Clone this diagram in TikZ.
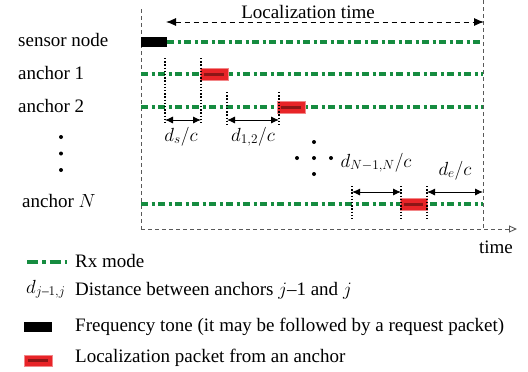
\RequirePackage{fix-cm}
\documentclass[tikz,border=0pt]{standalone}
\usepackage{amsmath}
\usepackage{fontspec}
\setmainfont{Liberation Serif}
\usepackage{tikz}
\usetikzlibrary{arrows.meta,positioning}
\definecolor{rxgreen}{RGB}{22,140,64}
\definecolor{pktred}{RGB}{232,36,40}
\definecolor{pktdark}{RGB}{140,22,22}

\begin{document}
\begin{tikzpicture}[x=1pt,y=-1pt,
  lbl/.style={inner sep=0pt, font=\fontsize{19}{22}\selectfont},
  rx/.style={rxgreen, line width=3.6pt, dash pattern=on 7pt off 3.5pt on 3pt off 3.5pt},
  frame/.style={black!65, line width=0.9pt, dash pattern=on 4pt off 3pt},
  guide/.style={black, line width=1.4pt, dash pattern=on 1.4pt off 1.8pt},
  span/.style={{Latex[length=8pt,width=7pt]}-{Latex[length=8pt,width=7pt]}, line width=0.9pt},
  tone/.style={fill=black},
  pkt/.style={fill=pktred, draw=pktred!55!white, line width=0.8pt},
  pktcore/.style={pktdark, line width=3pt}]
\useasboundingbox (0,0) rectangle (528,372);

% Time frame
\coordinate (tstart) at (141,9);
\coordinate (tstartb) at (141,229);
\coordinate (tstop) at (483,0);
\coordinate (tstopb) at (483,229);
\coordinate (taxis) at (517,229);
\draw[frame] (tstart) -- (tstartb);
\draw[frame] (tstop) -- (tstopb);
\draw[frame, -{Triangle[open,length=8pt,width=7pt]}] (tstartb) -- (taxis);
\node[lbl, anchor=base] (timelbl) at (496,253) {time};

% Localization time
\coordinate (locs) at (166,22);
\coordinate (loce) at (484,22);
\draw[{Latex[length=10pt,width=8pt]}-{Latex[length=10pt,width=8pt]}, line width=0.9pt, dash pattern=on 5pt off 4pt] (locs) -- (loce);
\node[lbl, anchor=base] (loctime) at (308,18) {Localization time};

% Row labels
\node[lbl, anchor=base west] (sensor) at (18,46) {sensor node};
\node[lbl, anchor=base west] (anc1) at (18,79) {anchor 1};
\node[lbl, anchor=base west] (anc2) at (18,112) {anchor 2};
\node[lbl, anchor=base west] (ancN) at (22,207) {anchor $N$};
\fill (61,137) circle (2pt);
\fill (61,153.5) circle (2pt);
\fill (61,170) circle (2pt);

% Sensor node
\fill[tone] (141,36.5) rectangle (167,47);
\draw[rx] (167,42) -- (483,42);

% Anchor 1
\draw[rx] (141,74) -- (483,74);
\filldraw[pkt] (200,68) rectangle (228,80);
\draw[pktcore] (204,74) -- (224,74);

% Anchor 2
\draw[rx] (141,107) -- (483,107);
\filldraw[pkt] (277,101) rectangle (305,113);
\draw[pktcore] (281,107) -- (301,107);

% Anchor N
\draw[rx] (141,204) -- (483,204);
\filldraw[pkt] (400,198) rectangle (427,210);
\draw[pktcore] (404,204) -- (423,204);

% Propagation delays
\coordinate (ds1) at (165,120);
\coordinate (ds2) at (201,120);
\draw[guide] (165,58) -- (165,125);
\draw[guide] (201,58) -- (201,125);
\draw[span] (ds1) -- (ds2);
\node[lbl, anchor=base] (dslbl) at (181,141) {$d_{s}/c$};

\coordinate (d12a) at (227,120);
\coordinate (d12b) at (279,120);
\draw[guide] (227,92) -- (227,125);
\draw[guide] (279,92) -- (279,125);
\draw[span] (d12a) -- (d12b);
\node[lbl, anchor=base] (d12lbl) at (253,141) {$d_{1,2}/c$};

\fill (314,142) circle (2pt);
\fill (297,158) circle (2pt);
\fill (314,158) circle (2pt);
\fill (331,158) circle (2pt);
\fill (314,174) circle (2pt);

\coordinate (dNa) at (352,192);
\coordinate (dNb) at (401,192);
\coordinate (dea) at (427,192);
\coordinate (deb) at (483,192);
\draw[guide] (352,186) -- (352,220);
\draw[guide] (401,186) -- (401,220);
\draw[guide] (427,186) -- (427,220);
\draw[span] (dNa) -- (dNb);
\draw[span] (dea) -- (deb);
\node[lbl, anchor=base] (dNlbl) at (376,167) {$d_{N-1,N}/c$};
\node[lbl, anchor=base] (delbl) at (455,175) {$d_{e}/c$};

% Legend
\draw[rx, dash pattern=on 11pt off 4pt on 3.5pt off 4pt] (27,262) -- (67,262);
\node[lbl, anchor=base west] (legrx) at (75,267) {Rx mode};
\node[lbl, anchor=base west] (legdsym) at (26,293) {$d_{j\text{--}1,j}$};
\node[lbl, anchor=base west] (legd) at (75,295) {Distance between anchors $j$--1 and $j$};
\fill[tone] (24,322) rectangle (52,332);
\node[lbl, anchor=base west] (legtone) at (75,331) {Frequency tone (it may be followed by a request packet)};
\filldraw[pkt] (24,355) rectangle (52,366);
\draw[pktcore] (28,360.5) -- (48,360.5);
\node[lbl, anchor=base west] (legpkt) at (75,362) {Localization packet from an anchor};
\end{tikzpicture}
\end{document}
